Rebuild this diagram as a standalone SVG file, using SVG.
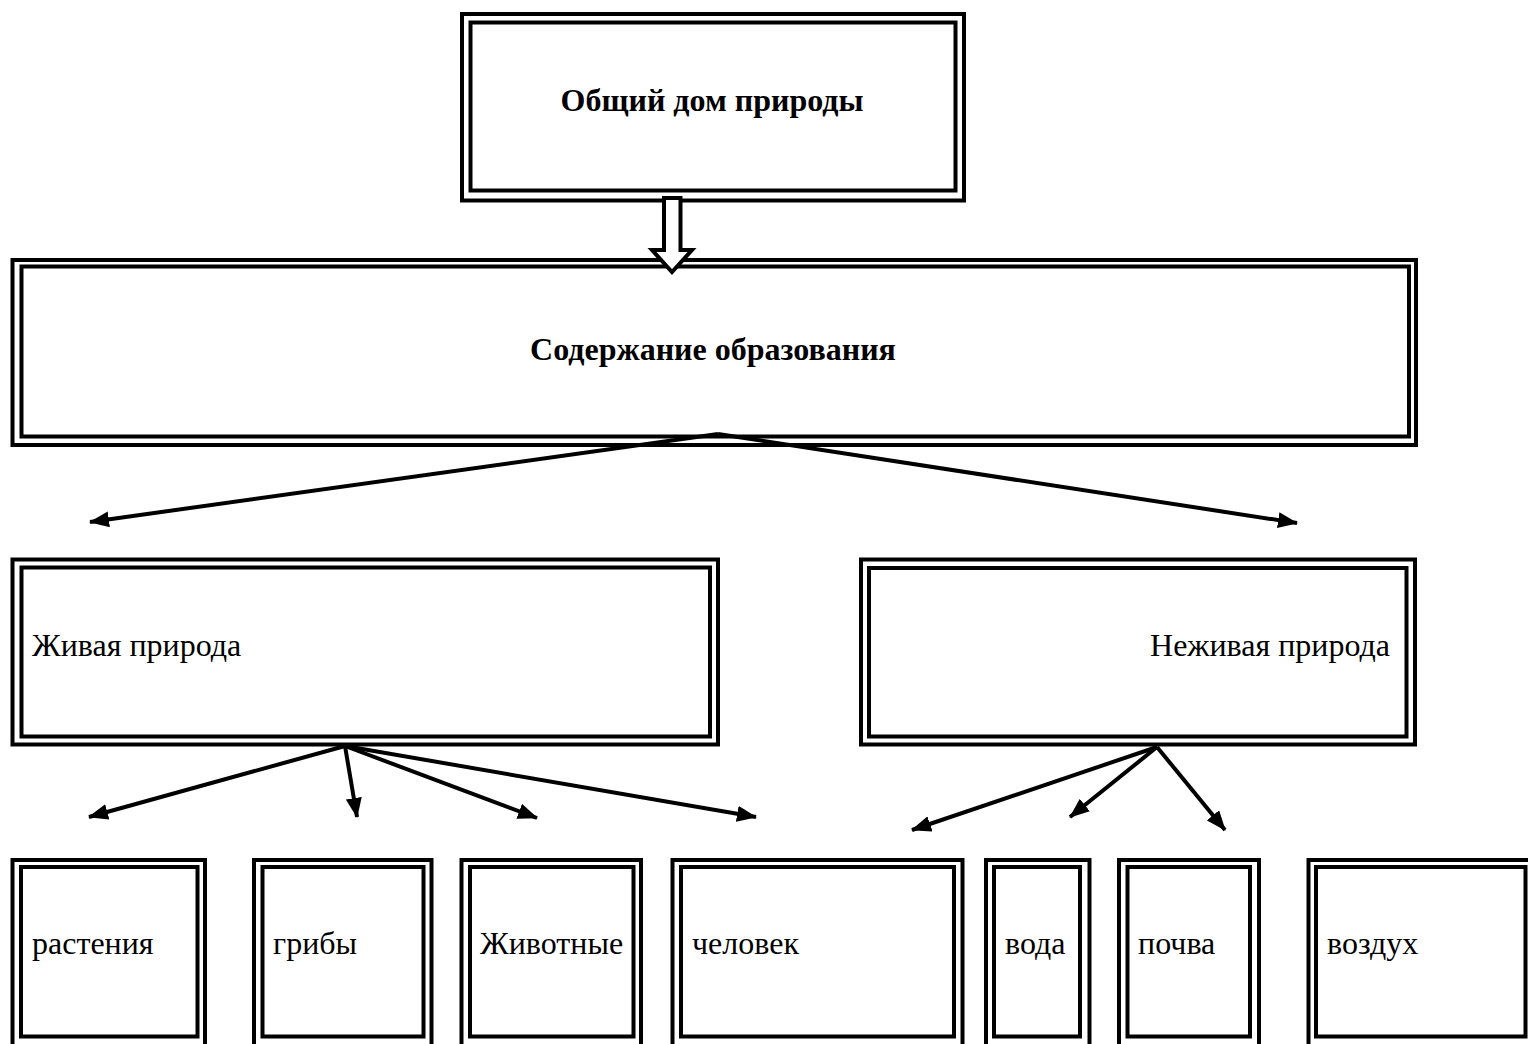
<svg xmlns="http://www.w3.org/2000/svg" width="1528" height="1044" viewBox="0 0 1528 1044">
<defs>
<style>
.o,.i{fill:none;stroke:#000;stroke-width:4}
.t{font-family:"Liberation Serif","Times New Roman",serif;font-size:32px;fill:#000}
.b{font-weight:bold}
.c{stroke:#000;stroke-width:4;fill:none}
.blk{stroke:#000;stroke-width:4;fill:#fff;stroke-linejoin:miter}
</style>
<marker id="ah" markerUnits="userSpaceOnUse" markerWidth="20" markerHeight="16" viewBox="0 0 20 16" refX="19" refY="8" orient="auto">
<path d="M0,0 L20,8 L0,16 Z" fill="#000"/>
</marker>
</defs>
<rect width="1528" height="1044" fill="#fff"/>
<g id="node-obshchiy-dom">
<rect class="o" x="462" y="14" width="502" height="186.5"/>
<rect class="i" x="470.5" y="22.5" width="485" height="168"/>
<text class="t b" x="712" y="111" text-anchor="middle">Общий дом природы</text>
</g>
<g id="node-soderzhanie">
<rect class="o" x="12.5" y="260" width="1403.5" height="185"/>
<rect class="i" x="21.5" y="266.5" width="1387.5" height="170"/>
<text class="t b" x="713" y="360" text-anchor="middle">Содержание образования</text>
</g>
<g id="node-zhivaya">
<rect class="o" x="12.5" y="559.5" width="705.5" height="185"/>
<rect class="i" x="21.5" y="567.5" width="688.5" height="169"/>
<text class="t" x="32" y="656">Живая природа</text>
</g>
<g id="node-nezhivaya">
<rect class="o" x="861" y="559.5" width="554" height="185"/>
<rect class="i" x="869" y="568" width="537.5" height="168.5"/>
<text class="t" x="1390" y="656" text-anchor="end">Неживая природа</text>
</g>
<g id="node-rasteniya">
<rect class="o" x="12.5" y="860" width="192.5" height="190"/>
<rect class="i" x="21" y="867" width="176.5" height="169.5"/>
<text class="t" x="32" y="954">растения</text>
</g>
<g id="node-griby">
<rect class="o" x="254" y="860" width="177.5" height="190"/>
<rect class="i" x="262.5" y="867" width="161" height="169.5"/>
<text class="t" x="273" y="954">грибы</text>
</g>
<g id="node-zhivotnye">
<rect class="o" x="461.5" y="860" width="179.5" height="190"/>
<rect class="i" x="470" y="867" width="163.5" height="169.5"/>
<text class="t" x="480" y="954">Животные</text>
</g>
<g id="node-chelovek">
<rect class="o" x="672.5" y="860" width="290" height="190"/>
<rect class="i" x="681" y="867" width="273" height="169.5"/>
<text class="t" x="692" y="954">человек</text>
</g>
<g id="node-voda">
<rect class="o" x="986" y="860" width="103.5" height="190"/>
<rect class="i" x="994" y="867" width="86" height="169.5"/>
<text class="t" x="1005" y="954">вода</text>
</g>
<g id="node-pochva">
<rect class="o" x="1119" y="860" width="140" height="190"/>
<rect class="i" x="1127.5" y="867" width="122.5" height="169.5"/>
<text class="t" x="1138" y="954">почва</text>
</g>
<g id="node-vozdukh">
<rect class="o" x="1308.5" y="860" width="230" height="190"/>
<rect class="i" x="1316" y="867" width="209.5" height="169.5"/>
<text class="t" x="1327" y="954">воздух</text>
</g>
<g id="connectors">
<polygon class="blk" points="664,198 664,250 652,250 672,272 692,250 680.5,250 680.5,198"/>
<line class="c" x1="718" y1="434" x2="90" y2="522" marker-end="url(#ah)"/>
<line class="c" x1="718" y1="434" x2="1297" y2="523" marker-end="url(#ah)"/>
<line class="c" x1="345" y1="746" x2="89" y2="817" marker-end="url(#ah)"/>
<line class="c" x1="345" y1="746" x2="357" y2="817" marker-end="url(#ah)"/>
<line class="c" x1="345" y1="746" x2="537" y2="818" marker-end="url(#ah)"/>
<line class="c" x1="345" y1="746" x2="756" y2="817" marker-end="url(#ah)"/>
<line class="c" x1="1157" y1="747" x2="912" y2="830" marker-end="url(#ah)"/>
<line class="c" x1="1157" y1="747" x2="1070" y2="817" marker-end="url(#ah)"/>
<line class="c" x1="1157" y1="747" x2="1225" y2="830" marker-end="url(#ah)"/>
</g>
</svg>
